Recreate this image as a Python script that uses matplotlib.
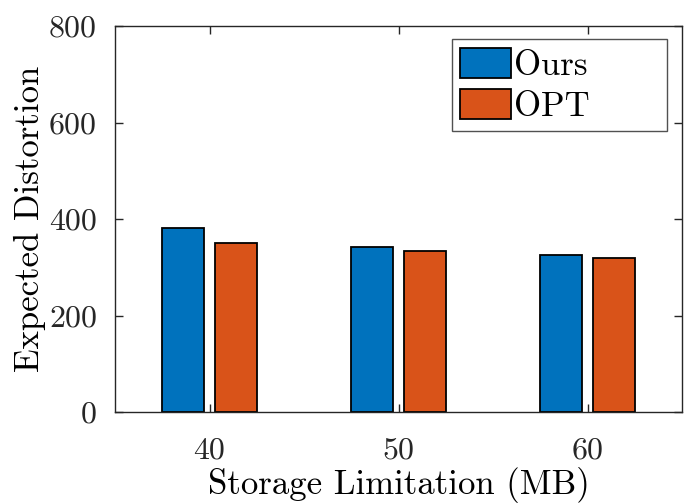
import numpy as np
import matplotlib.pyplot as plt

plt.rcParams['font.family'] = ['cmr10', 'DejaVu Serif']
plt.rcParams['mathtext.fontset'] = 'cm'
plt.rcParams['axes.unicode_minus'] = False

storage = ['40', '50', '60']
ours = [381, 343, 326]
opt = [350, 333, 319]

fig = plt.figure(figsize=(6.84, 5.03), dpi=100)
ax = fig.add_axes([115 / 684, 91 / 503, 567 / 684, 386 / 503])

x = np.arange(1, len(storage) + 1)
w = 0.225
ax.bar(x - 0.14, ours, w, color='#0072BD', edgecolor='black', linewidth=1.3, label='Ours')
ax.bar(x + 0.14, opt, w, color='#D95319', edgecolor='black', linewidth=1.3, label='OPT')

ax.set_xlim(0.5, 3.5)
ax.set_ylim(0, 800)
ax.set_xticks(x)
ax.set_xticklabels(storage)
ax.set_yticks([0, 200, 400, 600, 800])
ax.tick_params(direction='in', length=6, width=1, top=True, right=True,
               labelsize=23, colors='#262626')
ax.tick_params(axis='x', pad=18)
ax.tick_params(axis='y', pad=13)
for s in ax.spines.values():
    s.set_color('#262626')
    s.set_linewidth(1)

ax.set_xlabel('Storage Limitation (MB)', fontsize=25, labelpad=2)
ax.set_ylabel('Expected Distortion', fontsize=25, labelpad=2)

# MATLAB-style legend: box wider than its contents
leg = ax.legend(loc='upper left', mode='expand', bbox_to_anchor=(0.594, 0.5, 0.379, 0.466),
                borderaxespad=0, fontsize=25, frameon=True, fancybox=False,
                edgecolor='#262626', handlelength=1.45, handleheight=0.95,
                handletextpad=0.1, borderpad=0.25, labelspacing=0.2)
leg.get_frame().set_linewidth(1)

fig.savefig('out.png', dpi=100)
